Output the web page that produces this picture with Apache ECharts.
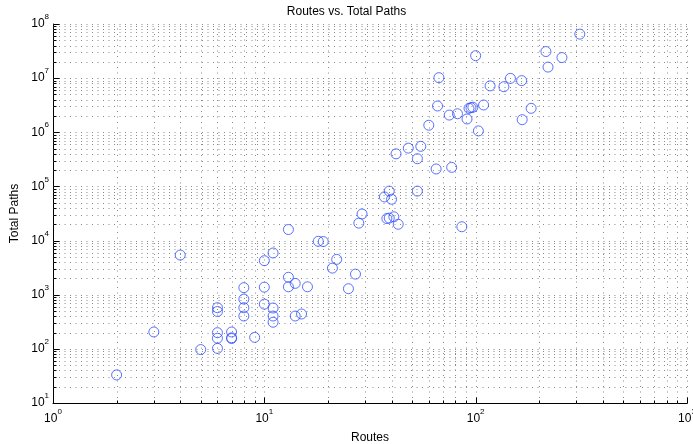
<!DOCTYPE html>
<html>
<head>
<meta charset="utf-8">
<script src="https://cdn.jsdelivr.net/npm/echarts@6/dist/echarts.min.js"></script>
<style>html,body{margin:0;padding:0;background:#fff;}#c{width:693px;height:444px;}</style>
</head>
<body>
<div id="c"></div>
<script>
const routes = [2,3,4,5,6,6,6,6,6,7,7,7,8,8,8,8,9,10,10,10,11,11,11,11,13,13,13,14,14,15,16,18,19,21,22,25,27,28,29,37,39,40,38,39,41,43,53,86,42,48,55,53,65,77,60,66,75,82,91,93,95,97,103,109,183,166,67,100,117,136,146,165,215,220,256,311];
const totalPaths = [33,205,5400,97,575,490,199,157,102,205,160,155,1350,830,575,404,163,4250,1380,670,5900,568,404,310,16000,2100,1400,1620,404,440,1400,9700,9600,3100,4500,1290,2400,21000,31000,64000,82000,58000,25500,26000,27500,20000,82000,18000,400000,510000,550000,325000,210000,225000,1350000,3060000,2080000,2200000,1760000,2770000,2850000,2900000,1060000,3190000,2770000,1710000,10200000,26000000,7200000,6950000,9900000,9000000,31000000,16000000,24000000,65000000];
const xExtent = [1, 1000];
const yExtent = [10, 1e8];
const titleText = 'Routes vs. Total Paths';
const xName = 'Routes';
const yName = 'Total Paths';

function logTicks(lo, hi) {
  const major = [], minor = [];
  for (let e = Math.round(Math.log10(lo)); e <= Math.round(Math.log10(hi)); e++) {
    const b = Math.pow(10, e);
    major.push(b);
    if (b < hi) for (let m = 2; m <= 9; m++) minor.push(m * b);
  }
  return {major, minor};
}
const xt = logTicks(xExtent[0], xExtent[1]);
const yt = logTicks(yExtent[0], yExtent[1]);

const FONT = 'Liberation Sans, Arial, Helvetica, sans-serif';
const rich = {
  b: {fontSize: 12, lineHeight: 12, padding: [5, 0, 0, 0], fontFamily: FONT, color: '#000'},
  s: {fontSize: 8, lineHeight: 8, padding: [0, 0, 9, 0], fontFamily: FONT, color: '#000'}
};
const fmt = v => '{b|10}{s|' + Math.round(Math.log10(v)) + '}';

const chart = echarts.init(document.getElementById('c'), null, {renderer: 'canvas'});
const pts = routes.map((r, i) => [r, totalPaths[i]]);

function renderGrid(params, api) {
  const bl = api.coord([xExtent[0], yExtent[0]]);
  const tr = api.coord([xExtent[1], yExtent[1]]);
  const L = Math.round(bl[0]) + 0.5, B = Math.round(bl[1]) + 0.5;
  const R = Math.round(tr[0]) + 0.5, T = Math.round(tr[1]) + 0.5;
  const ch = [];
  const dot = {stroke: '#8a8a8a', lineWidth: 1, lineDash: [1, 4.5]};
  const solid = {stroke: '#000', lineWidth: 1};
  const xs = xt.major.concat(xt.minor), ys = yt.major.concat(yt.minor);
  xs.forEach(v => {
    const x = Math.round(api.coord([v, yExtent[0]])[0]) + 0.5;
    if (x > L + 1) ch.push({type: 'line', shape: {x1: x, y1: B, x2: x, y2: T}, style: dot, silent: true});
  });
  ys.forEach(v => {
    const y = Math.round(api.coord([xExtent[0], v])[1]) + 0.5;
    if (y < B - 1) ch.push({type: 'line', shape: {x1: L, y1: y, x2: R, y2: y}, style: dot, silent: true});
  });
  xt.major.forEach(v => {
    const x = Math.round(api.coord([v, yExtent[0]])[0]) + 0.5;
    ch.push({type: 'line', shape: {x1: x, y1: B, x2: x, y2: B - 6}, style: solid, silent: true});
  });
  xt.minor.forEach(v => {
    const x = Math.round(api.coord([v, yExtent[0]])[0]) + 0.5;
    ch.push({type: 'line', shape: {x1: x, y1: B, x2: x, y2: B - 3}, style: solid, silent: true});
  });
  yt.major.forEach(v => {
    const y = Math.round(api.coord([xExtent[0], v])[1]) + 0.5;
    ch.push({type: 'line', shape: {x1: L, y1: y, x2: L + 6, y2: y}, style: solid, silent: true});
  });
  yt.minor.forEach(v => {
    const y = Math.round(api.coord([xExtent[0], v])[1]) + 0.5;
    ch.push({type: 'line', shape: {x1: L, y1: y, x2: L + 3, y2: y}, style: solid, silent: true});
  });
  return {type: 'group', children: ch};
}

chart.setOption({
  animation: false,
  backgroundColor: '#fff',
  title: {
    text: titleText, left: 'center', top: 1,
    textStyle: {fontSize: 12, fontWeight: 'normal', color: '#000', fontFamily: FONT}
  },
  grid: {left: 53, right: 6, top: 24, bottom: 41, containLabel: false, outerBoundsMode: 'none'},
  xAxis: {
    type: 'log', logBase: 10, min: xExtent[0], max: xExtent[1],
    name: xName, nameLocation: 'middle', nameGap: 29,
    nameTextStyle: {fontSize: 12, color: '#000', fontFamily: FONT},
    axisLine: {show: true, onZero: false, lineStyle: {color: '#000', width: 1}},
    axisTick: {show: false}, splitLine: {show: false}, minorTick: {show: false},
    axisLabel: {formatter: fmt, rich: rich, margin: 7, showMinLabel: true, showMaxLabel: true, hideOverlap: false}
  },
  yAxis: {
    type: 'log', logBase: 10, min: yExtent[0], max: yExtent[1],
    name: yName, nameLocation: 'middle', nameGap: 28,
    nameTextStyle: {fontSize: 12, color: '#000', fontFamily: FONT},
    axisLine: {show: true, onZero: false, lineStyle: {color: '#000', width: 1}},
    axisTick: {show: false}, splitLine: {show: false}, minorTick: {show: false},
    axisLabel: {formatter: fmt, rich: rich, margin: 4, padding: [0, 0, 5, 0], showMinLabel: true, showMaxLabel: true, hideOverlap: false}
  },
  series: [
    {
      type: 'custom', renderItem: renderGrid, data: [[xExtent[0], yExtent[0]]],
      encode: {x: 0, y: 1}, silent: true, z: 1, clip: false
    },
    {
      type: 'scatter', data: pts, symbol: 'circle', symbolSize: 10, z: 3,
      itemStyle: {color: 'rgba(0,0,0,0)', borderColor: '#2f4fff', borderWidth: 1}
    }
  ]
});
</script>
</body>
</html>
